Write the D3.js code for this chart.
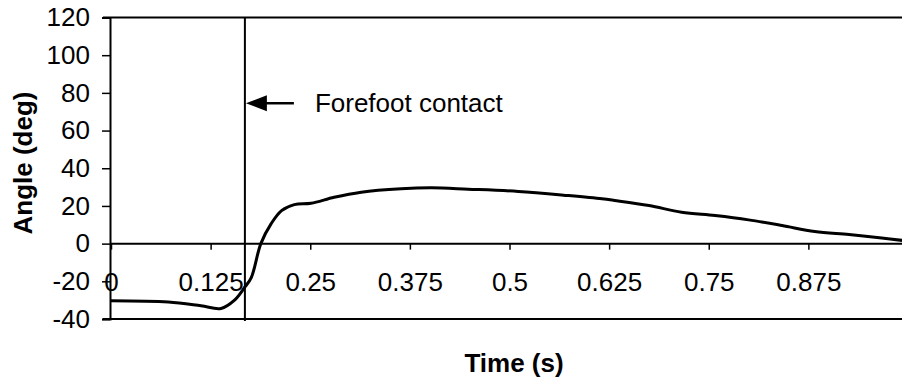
<!DOCTYPE html>
<html>
<head>
<meta charset="utf-8">
<script src="https://cdnjs.cloudflare.com/ajax/libs/d3/7.8.5/d3.min.js"></script>
<style>
  body { margin: 0; background: #fff; }
  svg { display: block; font-family: "Liberation Sans", Arial, sans-serif; }
</style>
</head>
<body>
<div id="chart"></div>
<script>
const WIDTH = 902;
const HEIGHT = 384;

// datos
const tiempos = [0, 0.072, 0.113, 0.138, 0.155, 0.168, 0.176, 0.188, 0.201, 0.214, 0.230, 0.251,
    0.280, 0.314, 0.364, 0.402, 0.448, 0.511, 0.574, 0.616, 0.632, 0.675, 0.716, 0.758, 0.800,
    0.842, 0.883, 0.926, 0.967, 0.995];
const angulos = [-30.3, -31, -33, -34.4, -30, -23, -18, 0, 10.6, 17.5, 20.7, 21.4,
    24.6, 27.3, 29.1, 29.6, 28.9, 27.7, 25.5, 23.8, 22.9, 20.2, 16.7, 14.9, 12.6,
    9.6, 6.4, 4.8, 3.0, 1.6];
const xTicks = [0, 0.125, 0.25, 0.375, 0.5, 0.625, 0.75, 0.875];
const yTicks = [-40, -20, 0, 20, 40, 60, 80, 100, 120];
const contacto = 0.168;
const contactoLabel = "Forefoot contact";
const flechaAngulo = 74.5;

const FONT = 26;

const svg = d3.select("#chart")
    .append("svg")
    .attr("width", WIDTH)
    .attr("height", HEIGHT);

const x = d3.scaleLinear().domain([0, 1]).range([111, 908]);
const y = d3.scaleLinear().domain([-40, 120]).range([319, 17.5]);

// bordes superior e inferior
[120, -40].forEach(function(v) {
    svg.append("line")
        .attr("x1", 103).attr("x2", WIDTH)
        .attr("y1", y(v)).attr("y2", y(v))
        .attr("stroke", "#000").attr("stroke-width", 2);
});

// eje Y
const yAxis = svg.append("g")
    .attr("transform", "translate(110,0)")
    .call(d3.axisLeft(y).tickValues(yTicks).tickSize(8).tickPadding(12).tickFormat(function(d) { return String(d); }));
yAxis.select(".domain").attr("stroke-width", 2);
yAxis.selectAll(".tick line").attr("stroke-width", 1.5);
yAxis.selectAll("text")
    .attr("font-size", FONT)
    .attr("fill", "#000")
    .attr("font-family", "Liberation Sans, Arial, sans-serif");

// eje X en y = 0
const xAxis = svg.append("g")
    .attr("transform", "translate(0," + y(0) + ")")
    .call(d3.axisBottom(x).tickValues(xTicks).tickSize(6).tickFormat(function(d) { return String(d); }));
xAxis.select(".domain").remove();
xAxis.append("line")
    .attr("x1", 110).attr("x2", WIDTH)
    .attr("stroke", "#000").attr("stroke-width", 2);
xAxis.selectAll(".tick line").attr("stroke-width", 1.5);
xAxis.selectAll("text")
    .attr("y", 38)
    .attr("dy", "0.35em")
    .attr("font-size", FONT)
    .attr("fill", "#000")
    .attr("font-family", "Liberation Sans, Arial, sans-serif");

// linea de contacto del antepie
svg.append("line")
    .attr("x1", x(contacto)).attr("x2", x(contacto))
    .attr("y1", y(120)).attr("y2", y(-40) + 2)
    .attr("stroke", "#000").attr("stroke-width", 2);

// flecha
const ay = y(flechaAngulo);
const ax = x(contacto) + 1;
svg.append("line")
    .attr("x1", ax + 18).attr("x2", ax + 48)
    .attr("y1", ay).attr("y2", ay)
    .attr("stroke", "#000").attr("stroke-width", 2.5);
svg.append("path")
    .attr("d", `M${ax},${ay} L${ax + 21},${ay - 8} L${ax + 21},${ay + 8} Z`)
    .attr("fill", "#000");
svg.append("text")
    .attr("x", ax + 69)
    .attr("y", ay)
    .attr("dy", "0.35em")
    .attr("font-size", FONT)
    .text(contactoLabel);

// curva
const puntos = tiempos.map(function(t, i) { return [t, angulos[i]]; });
const linea = d3.line()
    .x(function(d) { return x(d[0]); })
    .y(function(d) { return y(d[1]); })
    .curve(d3.curveCatmullRom);
svg.append("path")
    .datum(puntos)
    .attr("d", linea)
    .attr("fill", "none")
    .attr("stroke", "#000")
    .attr("stroke-width", 3);

// titulos de ejes
svg.append("text")
    .attr("x", 514)
    .attr("y", 363)
    .attr("dy", "0.35em")
    .attr("text-anchor", "middle")
    .attr("font-size", FONT)
    .attr("font-weight", "bold")
    .text("Time (s)");

svg.append("text")
    .attr("transform", "translate(23,163) rotate(-90)")
    .attr("dy", "0.35em")
    .attr("text-anchor", "middle")
    .attr("font-size", FONT)
    .attr("font-weight", "bold")
    .text("Angle (deg)");
</script>
</body>
</html>
